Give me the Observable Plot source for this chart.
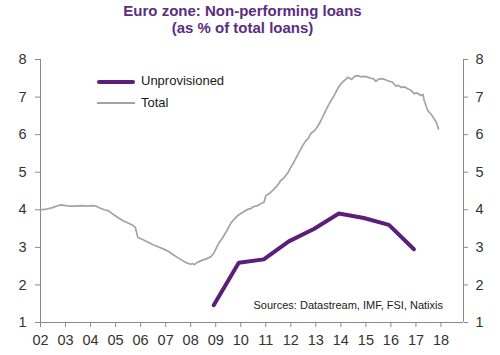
<!DOCTYPE html>
<html>
<head>
<meta charset="utf-8">
<script src="https://cdn.jsdelivr.net/npm/d3@7"></script>
<script src="https://cdn.jsdelivr.net/npm/@observablehq/plot@0.6"></script>
<style>
  html, body { margin: 0; padding: 0; background: #fff; }
  #wrap { position: relative; width: 500px; height: 355px; font-family: "Liberation Sans", Arial, sans-serif; }
  #title { width: 485px; padding-top: 2px; text-align: center; font-weight: bold; font-size: 15px; line-height: 17px; color: #5a2d81; }
  .leg { position: absolute; font-size: 13px; line-height: 15px; color: #1a1a1a; white-space: nowrap; }
  .sw { position: absolute; }
  #src { position: absolute; right: 57px; top: 299px; font-size: 11px; line-height: 13px; color: #1a1a1a; white-space: nowrap; }
  svg { display: block; }
</style>
</head>
<body>
<div id="wrap">
  <div id="title">Euro zone: Non-performing loans<br>(as % of total loans)</div>
  <div id="chart"></div>
  <div class="sw" style="left:97px; top:80px; width:38px; height:4px; background:#5b1f7a; border-radius:2px;"></div>
  <div class="leg" style="left:141px; top:73px;">Unprovisioned</div>
  <div class="sw" style="left:97px; top:102px; width:38px; height:1.6px; background:#a3a3a3;"></div>
  <div class="leg" style="left:141px; top:95px;">Total</div>
  <div id="src">Sources: Datastream, IMF, FSI, Natixis</div>
</div>
<script>
// Total NPL ratio (% of total loans)
const totalYears = [
  2002.0, 2002.25, 2002.45, 2002.65, 2002.83, 2003.0, 2003.12, 2003.4, 2003.65, 2003.9,
  2004.12, 2004.25, 2004.39, 2004.55, 2004.72, 2004.9, 2005.12, 2005.3, 2005.52, 2005.7,
  2005.79, 2005.89, 2006.1, 2006.32, 2006.5, 2006.72, 2006.9, 2007.12, 2007.33, 2007.5,
  2007.7, 2007.87, 2008.0, 2008.07, 2008.15, 2008.27, 2008.47, 2008.65, 2008.8, 2008.92,
  2009.0, 2009.13, 2009.27, 2009.45, 2009.6, 2009.75, 2009.87, 2010.05, 2010.27, 2010.4,
  2010.5, 2010.67, 2010.8, 2010.93, 2011.0, 2011.15, 2011.33, 2011.5, 2011.6, 2011.73,
  2011.87, 2012.0, 2012.17, 2012.33, 2012.47, 2012.6, 2012.7, 2012.8, 2012.9, 2013.0,
  2013.1, 2013.2, 2013.35, 2013.5, 2013.62, 2013.73, 2013.87, 2014.0, 2014.1, 2014.2,
  2014.27, 2014.35, 2014.43, 2014.55, 2014.67, 2014.8, 2014.95, 2015.07, 2015.2, 2015.3,
  2015.4, 2015.5, 2015.6, 2015.75, 2015.93, 2016.05, 2016.2, 2016.3, 2016.4, 2016.55,
  2016.67, 2016.8, 2016.93, 2017.05, 2017.2, 2017.28, 2017.33, 2017.47, 2017.6, 2017.73,
  2017.82, 2017.9
];
const totalValues = [
  4.00, 4.02, 4.05, 4.10, 4.13, 4.11, 4.10, 4.10, 4.11, 4.10,
  4.11, 4.09, 4.04, 4.00, 3.97, 3.88, 3.78, 3.71, 3.64, 3.58,
  3.53, 3.26, 3.20, 3.13, 3.07, 3.01, 2.96, 2.89, 2.79, 2.72,
  2.64, 2.58, 2.55, 2.57, 2.54, 2.60, 2.66, 2.70, 2.75, 2.84,
  2.95, 3.12, 3.25, 3.45, 3.64, 3.76, 3.84, 3.92, 4.01, 4.03,
  4.08, 4.11, 4.16, 4.20, 4.37, 4.44, 4.55, 4.68, 4.78, 4.85,
  4.97, 5.13, 5.33, 5.53, 5.70, 5.84, 5.90, 6.03, 6.08, 6.15,
  6.25, 6.37, 6.58, 6.78, 6.92, 7.04, 7.22, 7.35, 7.42, 7.47,
  7.53, 7.50, 7.47, 7.55, 7.57, 7.54, 7.55, 7.53, 7.50, 7.49,
  7.42, 7.47, 7.49, 7.47, 7.42, 7.40, 7.29, 7.31, 7.26, 7.27,
  7.22, 7.18, 7.09, 7.11, 7.04, 7.07, 6.91, 6.64, 6.55, 6.42,
  6.32, 6.15
];
// Unprovisioned NPL ratio (year-end)
const unprovYears = [2008.92, 2009.92, 2010.92, 2011.92, 2012.92, 2013.92, 2014.92, 2015.92, 2016.92];
const unprovValues = [1.46, 2.59, 2.68, 3.16, 3.49, 3.90, 3.78, 3.60, 2.95];

const xTicks = [2002, 2003, 2004, 2005, 2006, 2007, 2008, 2009, 2010, 2011, 2012, 2013, 2014, 2015, 2016, 2017, 2018];
const yTicks = [1, 2, 3, 4, 5, 6, 7, 8];
const xDomain = [2002, 2018.9];
const yDomain = [1, 8];

const total = totalYears.map((x, i) => ({x, y: totalValues[i]}));
const unprov = unprovYears.map((x, i) => ({x, y: unprovValues[i]}));
const fmtX = d => String(d % 100).padStart(2, "0");
const fmtY = d => String(d);

const chart = Plot.plot({
  width: 500,
  height: 319,
  marginTop: 23,
  marginBottom: 33,
  marginLeft: 40,
  marginRight: 37,
  x: {domain: xDomain},
  y: {domain: yDomain},
  style: {fontFamily: '"Liberation Sans", Arial, sans-serif', fontSize: "14.5px", background: "#fff"},
  marks: [
    Plot.axisY({anchor: "left", ticks: yTicks, tickFormat: fmtY, tickSize: 5, tickPadding: 9, label: null, stroke: "#8a8a8a", fill: "#333"}),
    Plot.axisY({anchor: "right", ticks: yTicks, tickFormat: fmtY, tickSize: 4, tickPadding: 8, label: null, stroke: "#8a8a8a", fill: "#333"}),
    Plot.axisX({ticks: xTicks, tickSize: 5, tickPadding: 7, tickFormat: fmtX, label: null, stroke: "#8a8a8a", fill: "#333"}),
    Plot.ruleX(xDomain, {y1: yDomain[0], y2: yDomain[1], stroke: "#8a8a8a"}),
    Plot.ruleY([yDomain[0]], {stroke: "#8a8a8a"}),
    Plot.line(total, {x: "x", y: "y", stroke: "#a3a3a3", strokeWidth: 1.7}),
    Plot.line(unprov, {x: "x", y: "y", stroke: "#5b1f7a", strokeWidth: 4, strokeLinejoin: "miter"})
  ]
});
document.getElementById("chart").appendChild(chart);
</script>
</body>
</html>
